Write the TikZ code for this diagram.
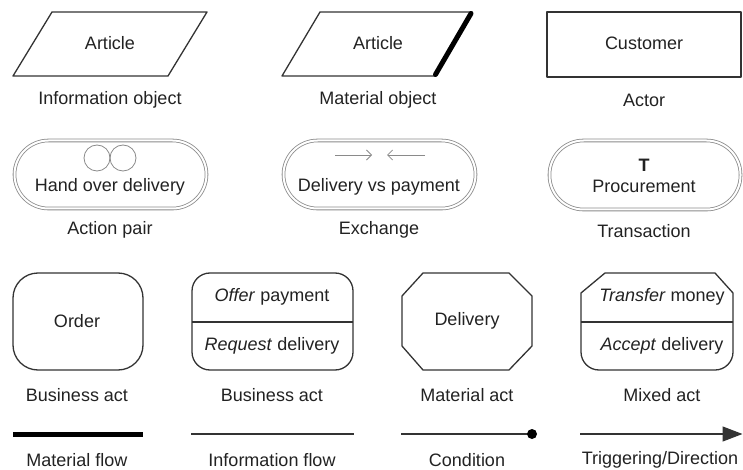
\documentclass[tikz,border=0pt]{standalone}
\usepackage{fontspec}
\setmainfont{Liberation Sans}
\usetikzlibrary{arrows.meta}
\definecolor{lc}{HTML}{333333}
\definecolor{dc}{HTML}{8A8A8A}
\definecolor{tc}{HTML}{222222}
\begin{document}
\begin{tikzpicture}[x=1pt,y=-1pt, line join=round,
  shp/.style={draw=lc, line width=1.3pt},
  dbl/.style={draw=dc, double=white, double distance=2pt, line width=0.8pt},
  txt/.style={font=\fontsize{18}{21}\selectfont, text=tc, inner sep=0pt},
  thinarrow/.style={draw=dc, line width=0.8pt, -{Straight Barb[length=5pt,width=10pt]}}
]
\useasboundingbox (0,0) rectangle (743,470);

% Row 1
\draw[shp] (52,12) -- (207,12) -- (168,76) -- (13,76) -- cycle;
\node[txt] (art1) at (110,43) {Article};
\node[txt] (lab1) at (110,100) {Information object};

\draw[shp] (320,12) -- (472,12) -- (435,76) -- (282,76) -- cycle;
\draw[line width=5pt, black, line cap=round] (471,13.5) -- (435.5,74.5);
\node[txt] (art2) at (378,43) {Article};
\node[txt] (lab2) at (378,100) {Material object};

\draw[shp] (547,12) rectangle (741,77);
\node[txt] (cust) at (644,43) {Customer};
\node[txt] (lab3) at (644,100) {Actor};

% Row 2
\draw[dbl, rounded corners=34pt] (14.5,140.5) rectangle (206.5,208.5);
\draw[dc, line width=0.8pt] (97,158) circle (13);
\draw[dc, line width=0.8pt] (123,158) circle (13);
\node[txt] (hod) at (110,187) {Hand over delivery};
\node[txt] (lab4) at (110,230) {Action pair};

\draw[dbl, rounded corners=34pt] (283.5,140.5) rectangle (475.5,208.5);
\coordinate (ea1) at (335,155);
\coordinate (ea2) at (372,155);
\coordinate (eb1) at (425,155);
\coordinate (eb2) at (387,155);
\draw[thinarrow] (ea1) -- (ea2);
\draw[thinarrow] (eb1) -- (eb2);
\node[txt] (dvp) at (379,187) {Delivery vs payment};
\node[txt] (lab5) at (379,230) {Exchange};

\draw[dbl, rounded corners=34pt] (549.5,140.5) rectangle (740.5,209.5);
\node[txt, font=\fontsize{18}{21}\selectfont\bfseries] (tt) at (644,165) {T};
\node[txt] (proc) at (644,186) {Procurement};
\node[txt] (lab6) at (644,231) {Transaction};

% Row 3
\draw[shp, rounded corners=25pt] (13,273) rectangle (143,370);
\node[txt] (ord) at (77,321) {Order};
\node[txt] (lab7) at (77,395) {Business act};

\draw[shp, rounded corners=18pt] (192,273) rectangle (353,370);
\draw[shp] (192,322) -- (353,322);
\node[txt] (offer) at (272,297) {\textit{Offer} payment};
\node[txt] (req) at (272,346) {\textit{Request} delivery};
\node[txt] (lab8) at (272,395) {Business act};

\draw[shp] (423,273) -- (509,273) -- (532,296) -- (532,346) -- (509,370) -- (423,370) -- (402,346) -- (402,296) -- cycle;
\node[txt] (deliv) at (467,321) {Delivery};
\node[txt] (lab9) at (467,395) {Material act};

\draw[shp] (581,293) -- (605,273) -- (715,273) -- (733,293) -- (733,352)
  arc[start angle=0, end angle=90, radius=18] -- (599,370)
  arc[start angle=90, end angle=180, radius=18] -- cycle;
\draw[shp] (581,322) -- (733,322);
\node[txt] (trans) at (662,297) {\textit{Transfer} money};
\node[txt] (acc) at (662,346) {\textit{Accept} delivery};
\node[txt] (lab10) at (662,395) {Mixed act};

% Row 4
\coordinate (mf1) at (13,434);
\coordinate (mf2) at (143,434);
\draw[black, line width=5pt] (mf1) -- (mf2);
\node[txt] (lab11) at (77,460) {Material flow};

\coordinate (if1) at (191,434);
\coordinate (if2) at (354,434);
\draw[lc, line width=1.3pt] (if1) -- (if2);
\node[txt] (lab12) at (272,460) {Information flow};

\coordinate (cf1) at (401,434);
\coordinate (cf2) at (532,434);
\draw[lc, line width=1.3pt] (cf1) -- (cf2);
\fill[black] (cf2) circle (5);
\node[txt] (lab13) at (467,460) {Condition};

\coordinate (tf1) at (580,434);
\coordinate (tf2) at (743,434);
\draw[lc, line width=1.3pt, -{Triangle[length=20pt,width=15pt]}, shorten >=0.5pt] (tf1) -- (tf2);
\node[txt] (lab14) at (660,460) {Triggering/Direction};
\end{tikzpicture}
\end{document}
